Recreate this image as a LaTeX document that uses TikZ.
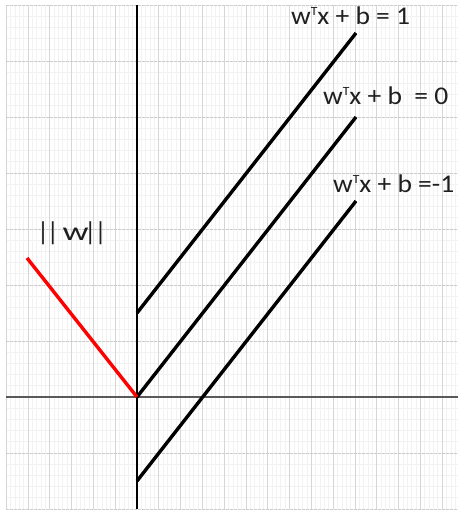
\documentclass[tikz,border=0pt]{standalone}
\usepackage{fontspec}
\setmainfont{Carlito}
\newcommand{\sT}{\raisebox{0.34em}{\fontsize{12.5}{12.5}\selectfont T}}
\newcommand{\wide}[1]{\scalebox{1.08}[1]{#1}}
\begin{document}
\begin{tikzpicture}[x=1pt,y=-1pt,
  minorline/.style={draw=black!5,line width=0.8pt},
  majorv/.style={draw=black!16,line width=1pt},
  majorh/.style={draw=black!20,line width=1pt,dash pattern=on 3pt off 1pt},
  axis/.style={line width=1.1pt},
  hyper/.style={line width=3.4pt,black},
  normal/.style={line width=3.4pt,red},
  lab/.style={anchor=base west,inner sep=0pt,font=\fontsize{25.5}{30}\selectfont,text=black!88}]
\useasboundingbox (0,0) rectangle (458,514);
\fill[white] (0,0) rectangle (458,514);
\begin{scope}
\clip (6,5) rectangle (458,509.5);
\foreach \i in {0,...,104} {\draw[minorline] ({6.2+\i*4.36},5) -- ({6.2+\i*4.36},509);}
\foreach \j in {0,...,45} {\draw[minorline] (6,{5+\j*11.2}) -- (458,{5+\j*11.2});}
\foreach \i in {0,...,20} {\draw[majorv] ({6.2+\i*21.8},5) -- ({6.2+\i*21.8},509);}
\foreach \j in {0,...,9} {\draw[majorh] (6,{5+\j*56}) -- (458,{5+\j*56});}
\end{scope}
% axes
\coordinate (xl) at (6,397);
\coordinate (xr) at (458,397);
\coordinate (yt) at (137,5);
\coordinate (yb) at (137,509);
\draw[axis,draw=black!65] (xl) -- (xr);
\draw[axis,black] (yt) -- (yb);
% hyperplanes
\coordinate (a1) at (137,313);
\coordinate (b1) at (356,33);
\coordinate (a0) at (137,397);
\coordinate (b0) at (356,117);
\coordinate (am) at (137,481);
\coordinate (bm) at (356,201);
\coordinate (w) at (27,258);
\draw[hyper] (a1) -- (b1);
\draw[hyper] (a0) -- (b0);
\draw[hyper] (am) -- (bm);
\draw[normal] (w) -- (a0);
% labels
\node[lab] (l1) at (291,24) {\wide{w\sT x + b = 1}};
\node[lab] (l0) at (323,104) {\wide{w\sT x + b\ \ = 0}};
\node[lab] (lm) at (333,192) {\wide{w\sT x + b =-1}};
\node[lab,font=\fontsize{26}{30}\selectfont] (ln) at (37,240) {|\kern-2.4pt|\kern4pt\scalebox{1.4}[1]{w}\kern-4.5pt|\kern-1.5pt|};
\end{tikzpicture}
\end{document}
